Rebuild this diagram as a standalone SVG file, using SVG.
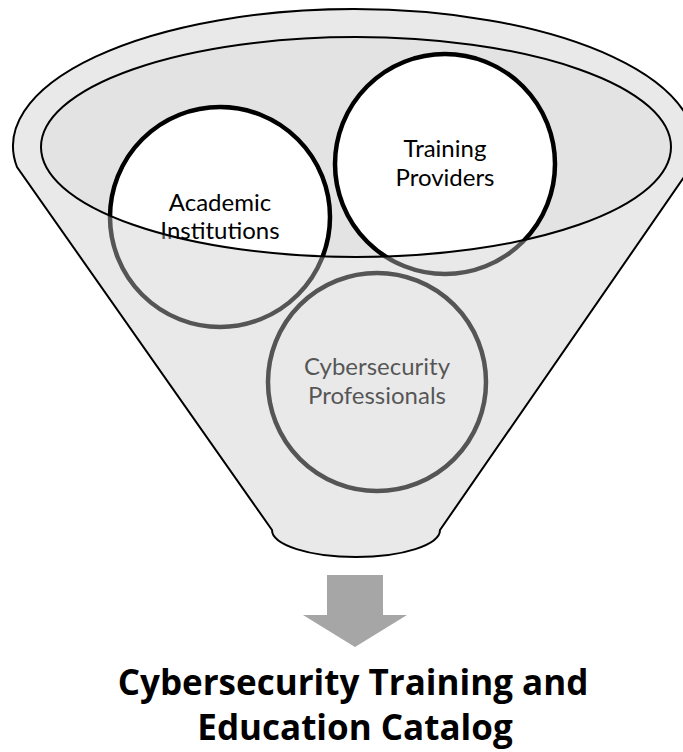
<svg xmlns="http://www.w3.org/2000/svg" width="683" height="752" viewBox="0 0 683 752">
  <style>
    .ring { fill: #ffffff; stroke: #000000; stroke-width: 4.5; }
    .label { font-family: Lato, "Open Sans", "Liberation Sans", sans-serif; font-size: 24px; fill: #000000; text-anchor: middle; }
    .title { font-family: "Open Sans", Lato, "Liberation Sans", sans-serif; font-size: 35px; font-weight: bold; fill: #000000; text-anchor: middle; }
    .outline { fill: none; stroke: #000000; stroke-width: 2; }
  </style>
  <defs>
    <!-- funnel silhouette: top rim arc, tapered sides, rounded spout -->
    <path id="funnel" d="M 17,167 A 341 137 0 1 1 691,167 L 440,530 A 84 27 0 0 1 272,530 Z"/>
    <path id="mouth" d="M 41,147 A 315 110 0 1 0 671,147 A 315 110 0 1 0 41,147 Z"/>
  </defs>

  <rect width="683" height="752" fill="#ffffff"/>

  <!-- funnel opening (inside of the rim) -->
  <use href="#mouth" fill="#e3e3e3"/>

  <!-- sources poured into the funnel -->
  <g id="academic">
    <circle class="ring" cx="220" cy="217" r="110"/>
    <text class="label" x="220" y="211">Academic</text>
    <text class="label" x="220" y="239">Institutions</text>
  </g>
  <g id="training">
    <circle class="ring" cx="445" cy="164" r="110"/>
    <text class="label" x="445" y="157">Training</text>
    <text class="label" x="445" y="186">Providers</text>
  </g>
  <g id="professionals">
    <circle class="ring" cx="377" cy="382" r="109"/>
    <text class="label" x="377" y="375">Cybersecurity</text>
    <text class="label" x="377" y="404">Professionals</text>
  </g>

  <!-- translucent funnel body in front of everything below the rim -->
  <g id="funnel-body">
    <path d="M 17,167 A 341 137 0 1 1 691,167 L 440,530 A 84 27 0 0 1 272,530 Z M 41,147 A 315 110 0 1 0 671,147 A 315 110 0 1 0 41,147 Z" fill="#cacaca" fill-opacity="0.42" fill-rule="evenodd"/>
    <use href="#funnel" class="outline"/>
    <use href="#mouth" class="outline"/>
  </g>

  <!-- output arrow -->
  <g id="connectors">
    <polygon points="327,575 383,575 383,615 407,615 355,647 303,615 327,615" fill="#a6a6a6"/>
  </g>

  <g id="catalog">
    <text class="title" x="353" y="695">Cybersecurity Training and</text>
    <text class="title" x="355" y="740">Education Catalog</text>
  </g>
</svg>
